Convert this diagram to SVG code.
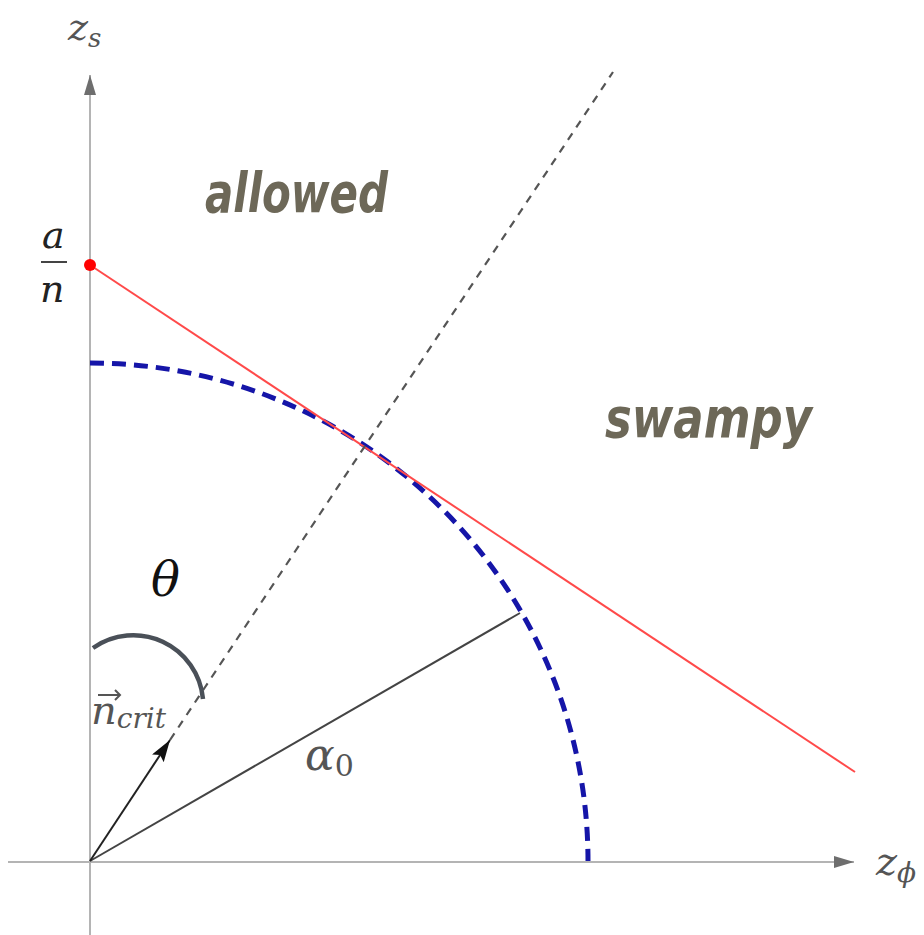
<svg xmlns="http://www.w3.org/2000/svg" width="924" height="935" viewBox="0 0 924 935">
<defs>
<style>
.axis{stroke:#b4b4b4;stroke-width:2;fill:none}
.hand{font-family:'DejaVu Sans','Liberation Sans',sans-serif;font-style:oblique;font-weight:bold;fill:#6d6858}
</style>
<marker id="axhead" viewBox="0 0 20 12" refX="20" refY="6" markerWidth="20" markerHeight="12" markerUnits="userSpaceOnUse" orient="auto">
<path d="M0,0 L20,6 L0,12 Z" fill="#6e6e6e"/>
</marker>
<marker id="nhead" viewBox="0 0 22 14" refX="22" refY="7" markerWidth="22" markerHeight="14" markerUnits="userSpaceOnUse" orient="auto">
<path d="M0,0 L22,7 L0,14 L4,7 Z" fill="#111"/>
</marker>
</defs>
<rect width="924" height="935" fill="#fff"/>
<g id="axes">
<line class="axis" x1="90" y1="935" x2="90" y2="75" marker-end="url(#axhead)"/>
<line class="axis" x1="8" y1="862" x2="854" y2="862" marker-end="url(#axhead)"/>
</g>
<g id="connectors">
<path id="circle" d="M90,363 A498,498 0 0 1 588,861" fill="none" stroke="#1515a8" stroke-width="5" stroke-dasharray="14 8"/>
<line id="redline" x1="90" y1="265" x2="855" y2="772" stroke="#ff4a4a" stroke-width="2"/>
<line id="dashline" x1="170" y1="740" x2="613" y2="72" stroke="#555" stroke-width="2.2" stroke-dasharray="8 7"/>
<line id="alpha" x1="90" y1="861" x2="520" y2="613" stroke="#444" stroke-width="2"/>
<line id="ncrit" x1="90" y1="861" x2="170" y2="740" stroke="#222" stroke-width="2" marker-end="url(#nhead)"/>
<path id="thetaarc" d="M93,648 A70,70 0 0 1 203,699" fill="none" stroke="#4a5058" stroke-width="4.5"/>
</g>
<g id="point">
<circle cx="90" cy="265" r="6" fill="#ff0000"/>
</g>
<g id="labels" font-family="DejaVu Serif, serif" font-style="italic">
<text x="68" y="40" font-size="38" fill="#555">z<tspan font-size="26" dy="7">s</tspan></text>
<text x="876" y="875" font-size="40" fill="#555">z<tspan font-size="28" dy="7">ϕ</tspan></text>
<text x="42" y="248" font-size="38" fill="#222">a</text>
<line x1="41" y1="262" x2="67" y2="262" stroke="#444" stroke-width="2"/>
<text x="40" y="302" font-size="38" fill="#222">n</text>
<text x="151" y="596" font-size="48" fill="#111">θ</text>
<text x="91" y="724" font-size="40" fill="#555">n<tspan font-size="28" dy="4">crit</tspan></text>
<path d="M98,695 L120,695 M115,690 L120,695 L115,700" fill="none" stroke="#555" stroke-width="2"/>
<text x="305" y="770" font-size="44" fill="#555">α<tspan font-size="30" dy="6" font-style="normal">0</tspan></text>
<text class="hand" x="205" y="212" font-size="56" textLength="183" lengthAdjust="spacingAndGlyphs">allowed</text>
<text class="hand" x="605" y="437" font-size="56" textLength="207" lengthAdjust="spacingAndGlyphs">swampy</text>
</g>
</svg>
